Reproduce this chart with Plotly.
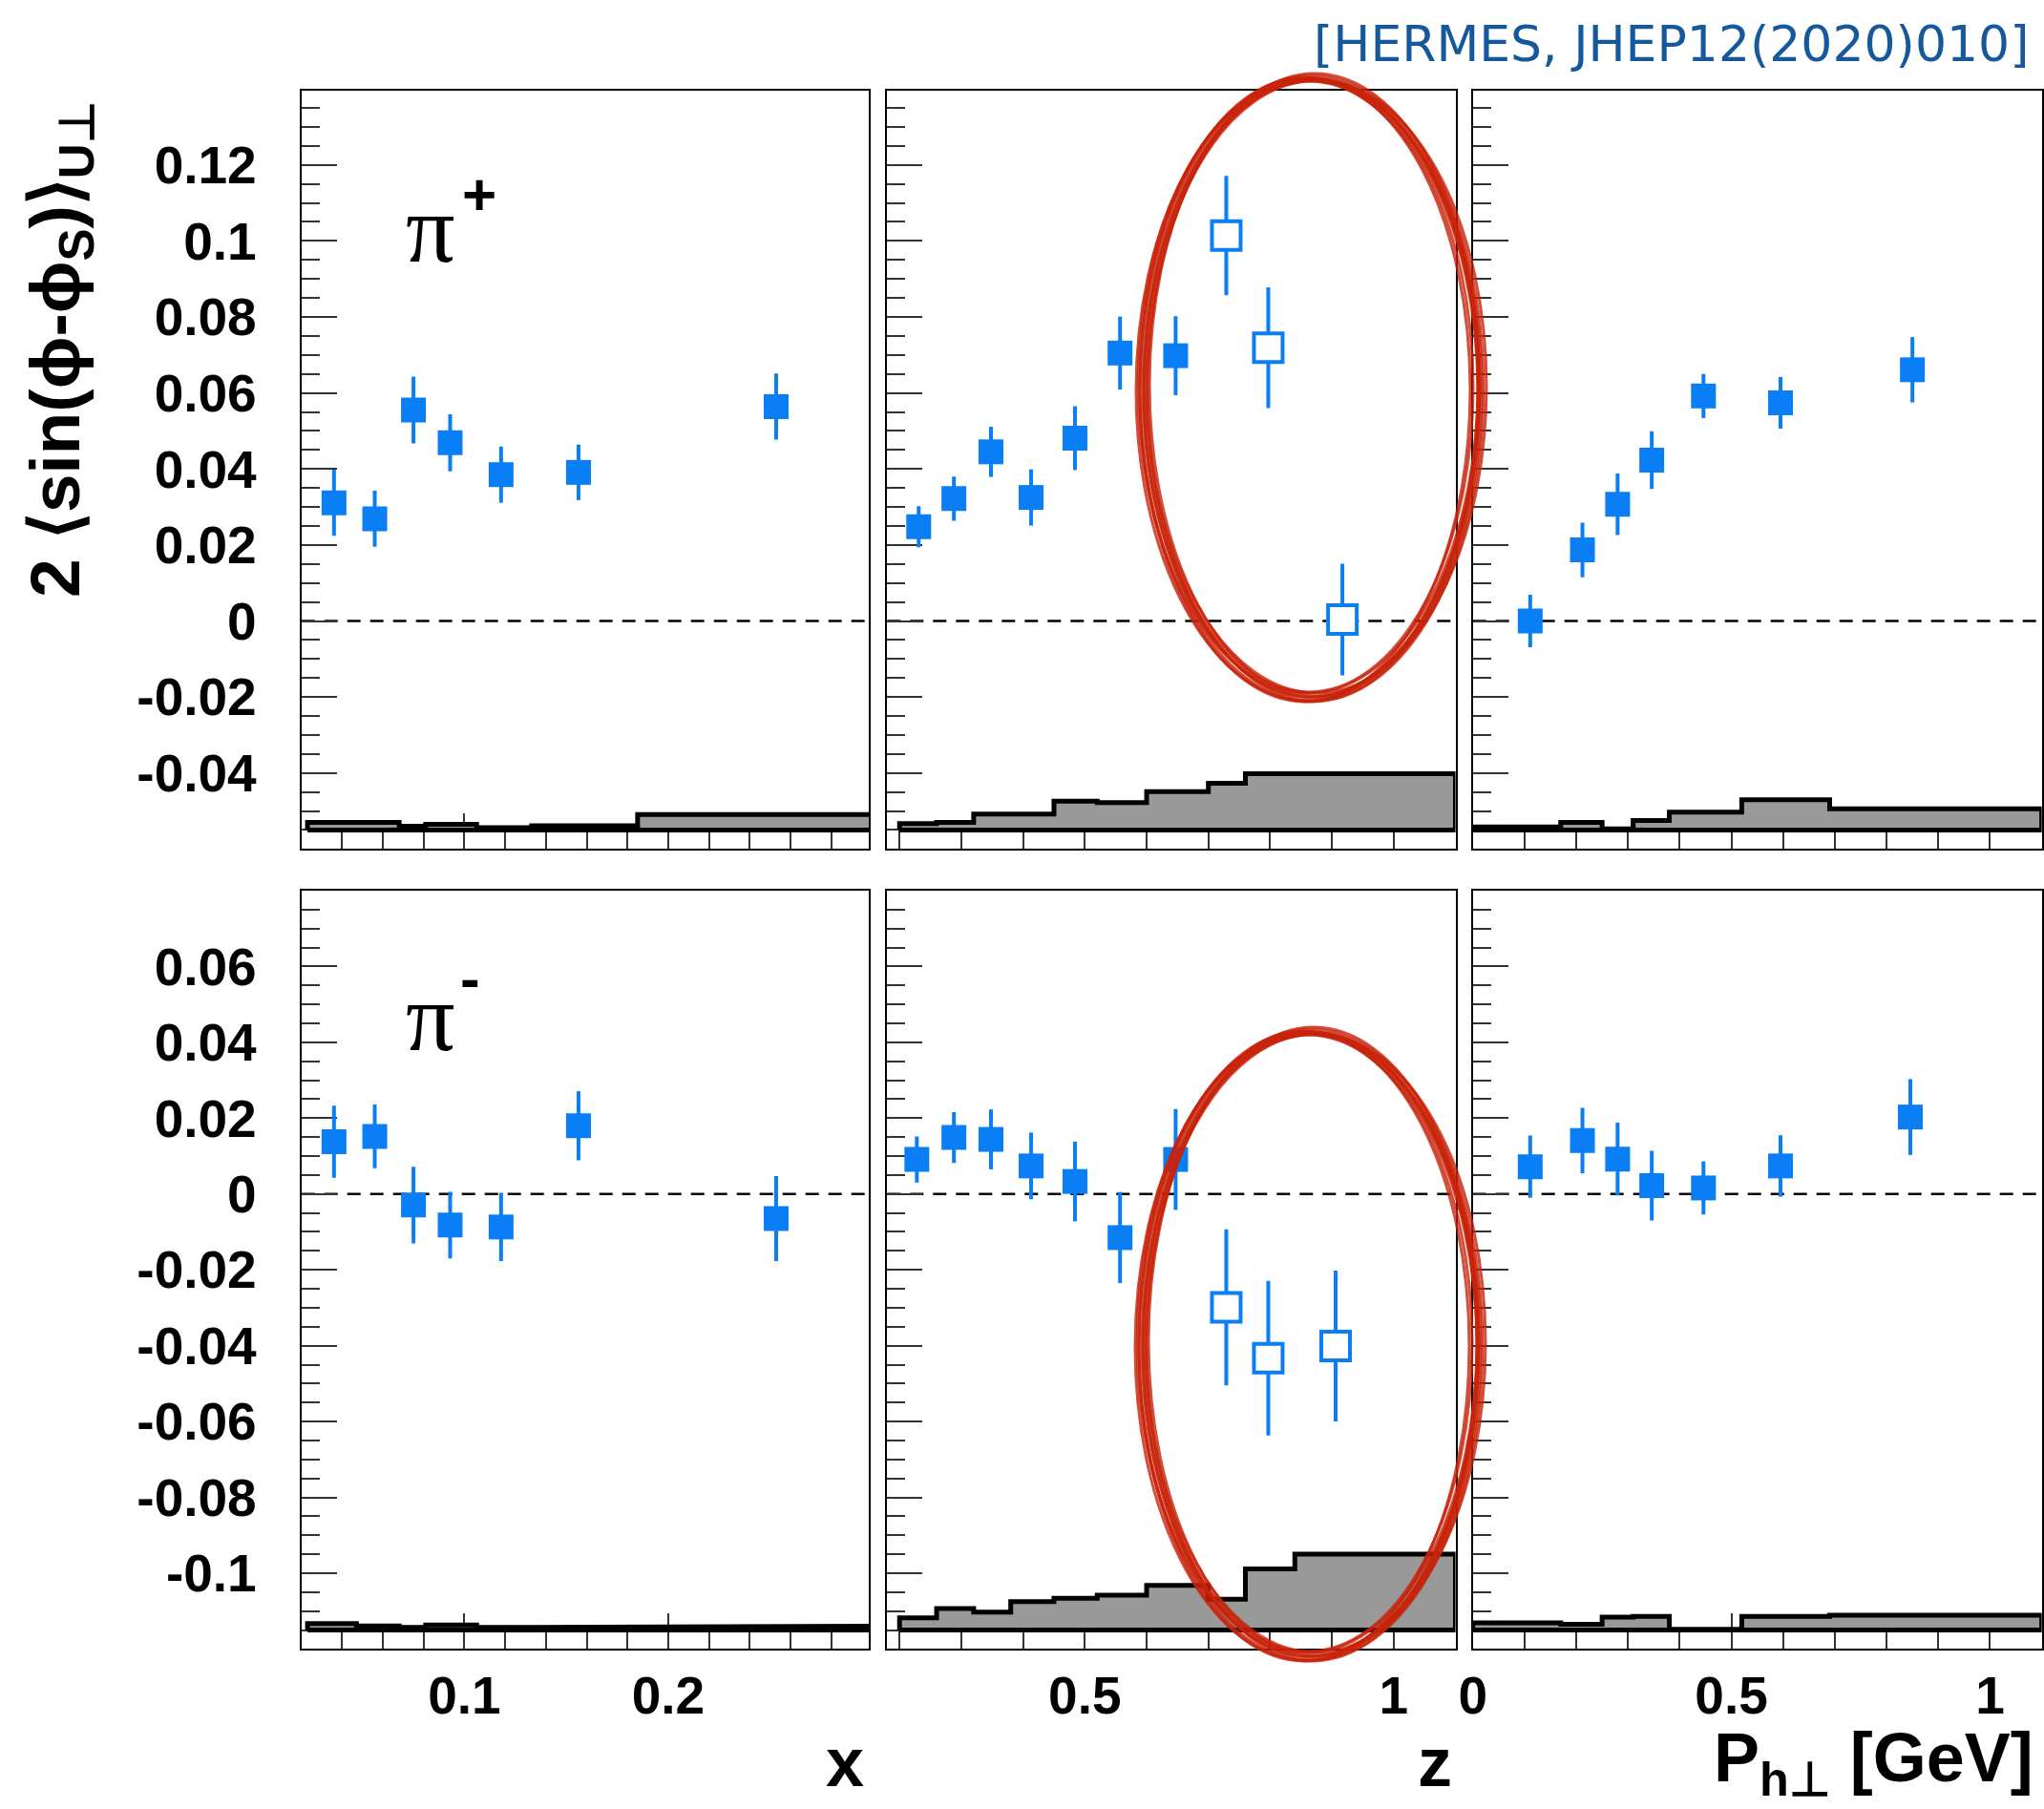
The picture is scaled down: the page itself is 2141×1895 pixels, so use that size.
import numpy as np
import plotly.graph_objects as go

W, H = 2141, 1895
BLUE = "#0a7ef5"
RED = "rgba(200,35,10,0.8)"

# ---------------- data ----------------
# x dependence
X_VALS = [0.036, 0.056, 0.075, 0.093, 0.118, 0.156, 0.253]
PIP_X_Y = [0.0311, 0.0269, 0.0555, 0.0469, 0.0385, 0.0391, 0.0564]
PIP_X_E = [0.0087, 0.0074, 0.0088, 0.0075, 0.0074, 0.0073, 0.0087]
PIM_X_Y = [0.0138, 0.0152, -0.0029, -0.0082, -0.0087, 0.0180, -0.0065]
PIM_X_E = [0.0095, 0.0084, 0.0101, 0.0088, 0.0090, 0.0091, 0.0112]

# z dependence
PIP_Z_X = [0.231, 0.288, 0.348, 0.413, 0.484, 0.557, 0.647, 0.729, 0.797, 0.917]
PIP_Z_Y = [0.0248, 0.0322, 0.0445, 0.0325, 0.0481, 0.0705, 0.0698, 0.1014, 0.0719, 0.0004]
PIP_Z_E = [0.0054, 0.0058, 0.0066, 0.0074, 0.0084, 0.0096, 0.0104, 0.0157, 0.0159, 0.0147]
PIM_Z_X = [0.228, 0.288, 0.348, 0.413, 0.484, 0.557, 0.647, 0.729, 0.797, 0.906]
PIM_Z_Y = [0.0091, 0.0149, 0.0144, 0.0074, 0.0033, -0.0115, 0.0091, -0.0299, -0.0433, -0.0401]
PIM_Z_E = [0.0061, 0.0067, 0.0079, 0.0088, 0.0105, 0.0120, 0.0133, 0.0206, 0.0204, 0.0199]
Z_OPEN = [False, False, False, False, False, False, False, True, True, True]

# P_h-perp dependence
PIP_PH_X = [0.111, 0.212, 0.280, 0.346, 0.446, 0.595, 0.850]
PIP_PH_Y = [0.0000, 0.0187, 0.0307, 0.0423, 0.0592, 0.0574, 0.0661]
PIP_PH_E = [0.0069, 0.0072, 0.0081, 0.0076, 0.0058, 0.0068, 0.0086]
PIM_PH_X = [0.111, 0.212, 0.280, 0.346, 0.446, 0.595, 0.846]
PIM_PH_Y = [0.0072, 0.0141, 0.0092, 0.0022, 0.0016, 0.0074, 0.0203]
PIM_PH_E = [0.0082, 0.0086, 0.0096, 0.0092, 0.0070, 0.0081, 0.0100]

# systematic bands (bin edges and heights)
X_EDGES = [0.023, 0.047, 0.068, 0.081, 0.106, 0.133, 0.185, 0.30]
SYS_PIP_X = [0.0020, 0.0020, 0.0010, 0.0015, 0.0006, 0.0011, 0.0041]
SYS_PIM_X = [0.0017, 0.0011, 0.0007, 0.0013, 0.0007, 0.0007, 0.0010]
Z_EDGES = [0.20, 0.26, 0.32, 0.38, 0.45, 0.52, 0.60, 0.70, 0.76, 0.84, 1.10]
SYS_PIP_Z = [0.0017, 0.0020, 0.0042, 0.0042, 0.0076, 0.0072, 0.0101, 0.0123, 0.0148, 0.0148]
SYS_PIM_Z = [0.0032, 0.0057, 0.0047, 0.0075, 0.0084, 0.0092, 0.0118, 0.0081, 0.0161, 0.0200]
PH_EDGES = [0.0, 0.17, 0.25, 0.31, 0.38, 0.52, 0.69, 1.10]
SYS_PIP_PH = [0.0008, 0.0020, 0.0003, 0.0025, 0.0047, 0.0080, 0.0056]
SYS_PIM_PH = [0.0019, 0.0015, 0.0034, 0.0036, 0.0002, 0.0036, 0.0039]
BAND_BASE_TOP = -0.055
BAND_BASE_BOT = -0.115

# axis ticks
X_TICKS = [0.1, 0.2]
X_TICKTEXT = ["0.1", "0.2"]
Z_TICKS = [0.5, 1.0]
Z_TICKTEXT = ["0.5", "1"]
PH_TICKS = [0.0, 0.5, 1.0]
PH_TICKTEXT = ["0", "0.5", "1"]
YTOP_TICKS = [-0.04, -0.02, 0.0, 0.02, 0.04, 0.06, 0.08, 0.10, 0.12]
YTOP_TICKTEXT = ["-0.04", "-0.02", "0", "0.02", "0.04", "0.06", "0.08", "0.1", "0.12"]
YBOT_TICKS = [-0.10, -0.08, -0.06, -0.04, -0.02, 0.0, 0.02, 0.04, 0.06]
YBOT_TICKTEXT = ["-0.1", "-0.08", "-0.06", "-0.04", "-0.02", "0", "0.02", "0.04", "0.06"]

# ---------------- layout geometry ----------------
COLS = [(315.7, 910.1), (929.3, 1524.5), (1542.7, 2138.6)]
ROWS = [(94.7, 888.6), (933.0, 1727.0)]
XRANGES = [[0.02, 0.2985], [0.18, 1.10], [0.0, 1.10]]
YRANGES = [[-0.0598, 0.1396], [-0.1199, 0.0800]]


def band_xy(edges, h, base):
    xs, ys = [edges[0]], [base]
    for i, v in enumerate(h):
        xs += [edges[i], edges[i + 1]]
        ys += [base + v, base + v]
    xs += [edges[-1], edges[0]]
    ys += [base, base]
    return xs, ys


fig = go.Figure()

panels = [
    # (row, col, xs, ys, errs, open flags, edges, sys, base)
    (0, 0, X_VALS, PIP_X_Y, PIP_X_E, None, X_EDGES, SYS_PIP_X, BAND_BASE_TOP),
    (0, 1, PIP_Z_X, PIP_Z_Y, PIP_Z_E, Z_OPEN, Z_EDGES, SYS_PIP_Z, BAND_BASE_TOP),
    (0, 2, PIP_PH_X, PIP_PH_Y, PIP_PH_E, None, PH_EDGES, SYS_PIP_PH, BAND_BASE_TOP),
    (1, 0, X_VALS, PIM_X_Y, PIM_X_E, None, X_EDGES, SYS_PIM_X, BAND_BASE_BOT),
    (1, 1, PIM_Z_X, PIM_Z_Y, PIM_Z_E, Z_OPEN, Z_EDGES, SYS_PIM_Z, BAND_BASE_BOT),
    (1, 2, PIM_PH_X, PIM_PH_Y, PIM_PH_E, None, PH_EDGES, SYS_PIM_PH, BAND_BASE_BOT),
]

layout_axes = {}
shapes = []
for k, (r, c, xs, ys, es, opn, edges, sysv, base) in enumerate(panels):
    idx = k + 1
    xa = "x" if idx == 1 else f"x{idx}"
    ya = "y" if idx == 1 else f"y{idx}"
    # systematic band
    bx, by = band_xy(edges, sysv, base)
    fig.add_trace(go.Scatter(x=bx, y=by, mode="lines", fill="toself",
                             fillcolor="#999999",
                             line=dict(color="black", width=5),
                             xaxis=xa, yaxis=ya, showlegend=False,
                             hoverinfo="skip"))
    if opn is None:
        opn = [False] * len(xs)
    fx = [x for x, o in zip(xs, opn) if not o]
    fy = [y for y, o in zip(ys, opn) if not o]
    fe = [e for e, o in zip(es, opn) if not o]
    ox = [x for x, o in zip(xs, opn) if o]
    oy = [y for y, o in zip(ys, opn) if o]
    oe = [e for e, o in zip(es, opn) if o]
    fig.add_trace(go.Scatter(x=fx, y=fy, mode="markers",
                             marker=dict(symbol="square", size=26, color=BLUE,
                                         line=dict(width=0)),
                             error_y=dict(type="data", array=fe, visible=True,
                                          thickness=4, width=0, color=BLUE),
                             xaxis=xa, yaxis=ya, showlegend=False))
    if ox:
        fig.add_trace(go.Scatter(x=ox, y=oy, mode="markers",
                                 marker=dict(symbol="square", size=30, color="white",
                                             line=dict(width=4, color=BLUE)),
                                 error_y=dict(type="data", array=oe, visible=True,
                                              thickness=4, width=0, color=BLUE),
                                 xaxis=xa, yaxis=ya, showlegend=False))

    x0, x1 = COLS[c]
    y0, y1 = ROWS[r]
    xr = XRANGES[c]
    yr = YRANGES[r]
    if c == 0:
        tv, tt = X_TICKS, X_TICKTEXT
        mv = [round(v, 3) for v in np.arange(0.04, 0.30, 0.02) if abs(v - 0.1) > 1e-6 and abs(v - 0.2) > 1e-6]
    elif c == 1:
        tv, tt = Z_TICKS, Z_TICKTEXT
        mv = [round(v, 2) for v in np.arange(0.2, 1.101, 0.1) if abs(v - 0.5) > 1e-6 and abs(v - 1.0) > 1e-6]
    else:
        tv, tt = PH_TICKS, PH_TICKTEXT
        mv = [round(v, 2) for v in np.arange(0.1, 1.101, 0.1) if abs(v - 0.5) > 1e-6 and abs(v - 1.0) > 1e-6]
    if r == 0:
        ytv, ytt = YTOP_TICKS, YTOP_TICKTEXT
    else:
        ytv, ytt = YBOT_TICKS, YBOT_TICKTEXT
    ymv = [round(v, 4) for v in np.arange(-0.12, 0.1401, 0.005)
           if all(abs(v - t) > 1e-6 for t in ytv) and yr[0] < v < yr[1]]

    common = dict(showline=True, mirror=True, linecolor="black", linewidth=2,
                  ticks="inside", ticklen=37, tickwidth=2, tickcolor="#333",
                  showgrid=False, zeroline=False, automargin=False,
                  layer="below traces",
                  tickfont=dict(family="Liberation Sans", size=55, color="black",
                                weight="bold"))
    layout_axes["xaxis" if idx == 1 else f"xaxis{idx}"] = dict(
        common, domain=[x0 / W, x1 / W], range=xr, anchor=ya,
        tickmode="array", tickvals=tv, ticktext=tt,
        showticklabels=(r == 1), ticklabelstandoff=0,
        minor=dict(tickmode="array", tickvals=mv, ticks="inside", ticklen=20,
                   tickwidth=2, tickcolor="#333"))
    layout_axes["yaxis" if idx == 1 else f"yaxis{idx}"] = dict(
        common, domain=[1 - y1 / H, 1 - y0 / H], range=yr, anchor=xa,
        tickmode="array", tickvals=ytv, ticktext=ytt,
        showticklabels=(c == 0), ticklabelstandoff=34,
        minor=dict(tickmode="array", tickvals=ymv, ticks="inside", ticklen=19,
                   tickwidth=2, tickcolor="#333"))
    # dashed zero line
    shapes.append(dict(type="line", xref=xa, yref=ya, x0=xr[0], x1=xr[1],
                       y0=0, y1=0, layer="below",
                       line=dict(color="black", width=2.5, dash="14px,10px")))

# hand-drawn red ellipses around the high-z points
STROKES = [(-6, 2, -3, 3), (-3, -2, 2, -2), (0, 0, 0, 0), (3, 2, -2, 2),
           (6, -1, 2, -3), (-4, 3, 3, 1), (4, -3, -3, 2), (1, 1, 4, 4),
           (-2, -1, -4, -4), (2, 2, 1, -1)]
for (cx, cy, rx, ry) in [(1373, 406, 176, 324), (1372, 1408, 176, 327)]:
    for (dx, dy, drx, dry) in STROKES:
        xc, yc = cx + dx, cy + dy
        a, b = rx + drx, ry + dry
        shapes.append(dict(type="circle", xref="paper", yref="paper",
                           x0=(xc - a) / W, x1=(xc + a) / W,
                           y0=1 - (yc + b) / H, y1=1 - (yc - b) / H,
                           layer="above", line=dict(color=RED, width=3)))

annotations = [
    dict(text="[HERMES, JHEP12(2020)010]", xref="paper", yref="paper",
         x=2127 / W, y=1 - 46 / H, xanchor="right", yanchor="middle",
         showarrow=False, font=dict(family="DejaVu Sans", size=52, color="#15589b")),
    dict(text="2 ⟨sin(ϕ-ϕ<sub>S</sub>)⟩<sub>U⊥</sub>", xref="paper", yref="paper",
         x=63 / W, y=1 - 104 / H, xanchor="center", yanchor="top", textangle=-90,
         showarrow=False,
         font=dict(family="Liberation Sans", size=73, color="black", weight="bold")),
    dict(text="π", xref="paper", yref="paper", x=451 / W, y=1 - 239 / H,
         xanchor="center", yanchor="middle", showarrow=False,
         font=dict(family="Liberation Serif", size=102, color="black")),
    dict(text="+", xref="paper", yref="paper", x=502 / W, y=1 - 204 / H,
         xanchor="center", yanchor="middle", showarrow=False,
         font=dict(family="Liberation Sans", size=62, color="black", weight="bold")),
    dict(text="π", xref="paper", yref="paper", x=451 / W, y=1 - 1065 / H,
         xanchor="center", yanchor="middle", showarrow=False,
         font=dict(family="Liberation Serif", size=102, color="black")),
    dict(text="-", xref="paper", yref="paper", x=492 / W, y=1 - 1024 / H,
         xanchor="center", yanchor="middle", showarrow=False,
         font=dict(family="Liberation Sans", size=62, color="black", weight="bold")),
    dict(text="x", xref="paper", yref="paper", x=907 / W, y=1 - 1846 / H,
         xanchor="right", yanchor="middle", showarrow=False,
         font=dict(family="Liberation Sans", size=72, color="black", weight="bold")),
    dict(text="z", xref="paper", yref="paper", x=1523 / W, y=1 - 1846 / H,
         xanchor="right", yanchor="middle", showarrow=False,
         font=dict(family="Liberation Sans", size=72, color="black", weight="bold")),
    dict(text="P<sub>h⊥</sub> [GeV]", xref="paper", yref="paper", x=2132 / W,
         y=1 - 1846 / H, xanchor="right", yanchor="middle", showarrow=False,
         font=dict(family="Liberation Sans", size=72, color="black", weight="bold")),
]

fig.update_layout(
    width=W, height=H, template="none",
    margin=dict(l=0, r=0, t=0, b=0, pad=0),
    paper_bgcolor="white", plot_bgcolor="white",
    showlegend=False, shapes=shapes, annotations=annotations,
    **layout_axes,
)

fig.write_html("out.html")
